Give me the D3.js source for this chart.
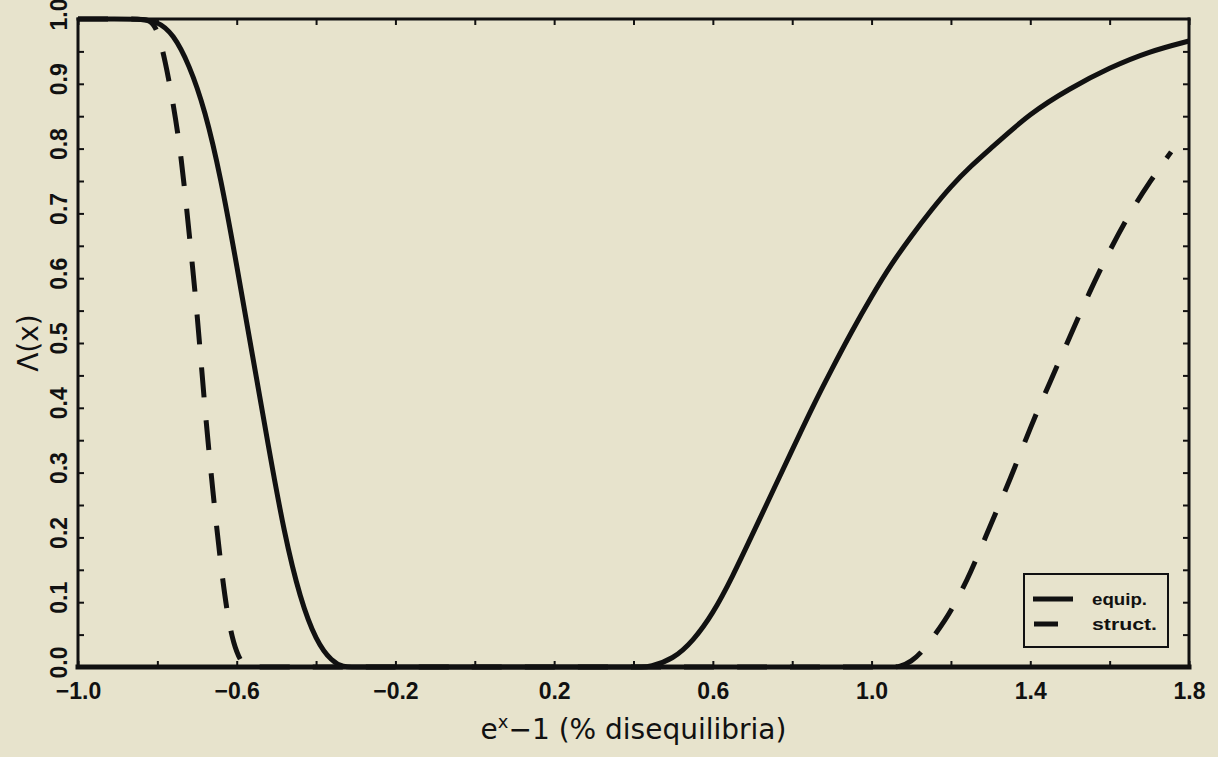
<!DOCTYPE html>
<html><head><meta charset="utf-8">
<script src="https://cdn.jsdelivr.net/npm/d3@7/dist/d3.min.js"></script>
<style>html,body{margin:0;padding:0;background:#e7e3cc;} svg{display:block;}</style>
</head><body><svg id="c" width="1218" height="757"></svg>
<script>
// ---- data ----
const seriesNames = ["equip.", "struct."];
const equipX = [-1.0, -0.90, -0.85, -0.80, -0.76, -0.72, -0.68, -0.64, -0.60, -0.56, -0.52, -0.48, -0.44, -0.40, -0.36, -0.33, -0.31, -0.29,
                0.0, 0.40, 0.42, 0.44, 0.50, 0.55, 0.60, 0.65, 0.70, 0.75, 0.80, 0.85, 0.90, 0.95, 1.00, 1.05, 1.10, 1.15, 1.20, 1.25, 1.30, 1.40, 1.50, 1.60, 1.70, 1.80];
const equipY = [1.0, 1.0, 1.0, 0.997, 0.977, 0.93, 0.86, 0.755, 0.62, 0.48, 0.34, 0.205, 0.105, 0.04, 0.008, 0.0, 0.0, 0.0,
                0.0, 0.0, 0.0, 0.0, 0.012, 0.04, 0.082, 0.14, 0.205, 0.27, 0.335, 0.40, 0.46, 0.518, 0.572, 0.622, 0.665, 0.705, 0.742, 0.773, 0.80, 0.855, 0.893, 0.925, 0.95, 0.966];
const structX = [-1.0, -0.86, -0.82, -0.80, -0.78, -0.76, -0.74, -0.72, -0.70, -0.68, -0.66, -0.64, -0.62, -0.60, -0.58, -0.56, -0.54,
                 0.2, 1.03, 1.05, 1.07, 1.10, 1.13, 1.16, 1.20, 1.25, 1.30, 1.35, 1.40, 1.45, 1.50, 1.55, 1.60, 1.65, 1.70, 1.755];
const structY = [1.0, 1.0, 1.0, 0.985, 0.935, 0.87, 0.79, 0.67, 0.55, 0.395, 0.27, 0.155, 0.065, 0.02, 0.0, 0.0, 0.0,
                 0.0, 0.0, 0.0, 0.0, 0.008, 0.025, 0.05, 0.085, 0.145, 0.22, 0.29, 0.37, 0.44, 0.51, 0.58, 0.643, 0.70, 0.748, 0.795];
const xTickLabels = [-1.0, -0.6, -0.2, 0.2, 0.6, 1.0, 1.4, 1.8];
const xMinorTicks = [-1.0, -0.8, -0.6, -0.4, -0.2, 0.0, 0.2, 0.4, 0.6, 0.8, 1.0, 1.2, 1.4, 1.6, 1.8];
const yTickLabels = [0.0, 0.1, 0.2, 0.3, 0.4, 0.5, 0.6, 0.7, 0.8, 0.9, 1.0];
const yMinorTicks = [0.05, 0.1, 0.15, 0.2, 0.25, 0.3, 0.35, 0.4, 0.45, 0.5, 0.55, 0.6, 0.65, 0.7, 0.75, 0.8, 0.85, 0.9, 0.95];
const xTitle = ["e", "x", "\u22121 (% disequilibria)"];
const yTitle = "\u039B(x)";

// ---- layout ----
const svg = d3.select("#c");
const ink = "#111";
const L = 78, R = 1189, T = 19, B = 667;
const x = d3.scaleLinear().domain([-1.0, 1.8]).range([L, R]);
const y = d3.scaleLinear().domain([0, 1]).range([B, T]);

svg.append("rect").attr("width", 1218).attr("height", 757).attr("fill", "#e7e3cc");

// curves
const line = d3.line().x(d => x(d[0])).y(d => y(d[1])).curve(d3.curveBasis);
const equip = equipX.map((v, i) => [v, equipY[i]]);
const struct = structX.map((v, i) => [v, structY[i]]);
svg.append("path").datum(equip).attr("d", line).attr("fill", "none")
  .attr("stroke", ink).attr("stroke-width", 5);
svg.append("path").datum(struct).attr("d", line).attr("fill", "none")
  .attr("stroke", ink).attr("stroke-width", 5).attr("stroke-dasharray", "30,23");

// frame
const frame = svg.append("g").attr("stroke", ink).attr("stroke-linecap", "square");
frame.append("line").attr("x1", L).attr("x2", R).attr("y1", B).attr("y2", B).attr("stroke-width", 5);
frame.append("line").attr("x1", L).attr("x2", R).attr("y1", T).attr("y2", T).attr("stroke-width", 3);
frame.append("line").attr("x1", L).attr("x2", L).attr("y1", T).attr("y2", B).attr("stroke-width", 3);
frame.append("line").attr("x1", R).attr("x2", R).attr("y1", T).attr("y2", B).attr("stroke-width", 3);

// minor inward ticks via axes
function styleTicks(g) {
  g.select(".domain").remove();
  g.selectAll(".tick line").attr("stroke", ink).attr("stroke-width", 2);
  g.selectAll(".tick text").remove();
}
svg.append("g").attr("transform", `translate(0,${B})`)
  .call(d3.axisBottom(x).tickValues(xMinorTicks).tickSize(-6)).call(styleTicks);
svg.append("g").attr("transform", `translate(0,${T})`)
  .call(d3.axisTop(x).tickValues(xMinorTicks).tickSize(-6)).call(styleTicks);
svg.append("g").attr("transform", `translate(${L},0)`)
  .call(d3.axisLeft(y).tickValues(yMinorTicks).tickSize(-6)).call(styleTicks);
svg.append("g").attr("transform", `translate(${R},0)`)
  .call(d3.axisRight(y).tickValues(yMinorTicks).tickSize(-6)).call(styleTicks);

// x tick labels
const xl = svg.append("g").attr("transform", `translate(0,${B})`)
  .call(d3.axisBottom(x).tickValues(xTickLabels).tickSize(0).tickFormat(d3.format(".1f")));
xl.select(".domain").remove();
xl.selectAll(".tick text").attr("y", 32).attr("dy", 0)
  .attr("fill", ink).style("font-family", "'Liberation Sans', Arial, sans-serif")
  .style("font-weight", "bold").style("font-size", "23px");

// y tick labels (rotated)
const yl = svg.append("g").attr("transform", `translate(${L},0)`)
  .call(d3.axisLeft(y).tickValues(yTickLabels).tickSize(0).tickFormat(d3.format(".1f")));
yl.select(".domain").remove();
yl.selectAll(".tick text")
  .attr("transform", "rotate(-90)").attr("x", 5).attr("y", -11).attr("dy", 0)
  .attr("text-anchor", "middle").attr("fill", ink)
  .style("font-family", "'Liberation Sans', Arial, sans-serif")
  .style("font-weight", "bold").style("font-size", "23px");

// axis titles
const xt = svg.append("text").attr("x", (L + R) / 2).attr("y", 739)
  .attr("text-anchor", "middle").attr("fill", ink)
  .style("font-family", "'DejaVu Sans', sans-serif").style("font-size", "28px");
xt.append("tspan").text(xTitle[0]);
xt.append("tspan").attr("dy", -11).style("font-size", "18px").text(xTitle[1]);
xt.append("tspan").attr("dy", 11).text(xTitle[2]);

svg.append("text").attr("transform", `translate(38,${(T + B) / 2}) rotate(-90)`)
  .attr("text-anchor", "middle").attr("fill", ink)
  .style("font-family", "'DejaVu Sans', sans-serif").style("font-size", "28px")
  .text(yTitle);

// legend
const lg = svg.append("g");
lg.append("rect").attr("x", 1024).attr("y", 574).attr("width", 144).attr("height", 73)
  .attr("fill", "none").attr("stroke", ink).attr("stroke-width", 2);
const legendY = [599, 624];
lg.append("line").attr("x1", 1033).attr("x2", 1073).attr("y1", legendY[0]).attr("y2", legendY[0])
  .attr("stroke", ink).attr("stroke-width", 5);
lg.append("line").attr("x1", 1034).attr("x2", 1058).attr("y1", legendY[1]).attr("y2", legendY[1])
  .attr("stroke", ink).attr("stroke-width", 5);
const legendW = [55, 65];
seriesNames.forEach((n, i) => {
  lg.append("text").attr("x", 1092).attr("y", legendY[i] + 6)
    .attr("textLength", legendW[i]).attr("lengthAdjust", "spacingAndGlyphs")
    .attr("fill", ink).style("font-family", "'Liberation Sans', Arial, sans-serif")
    .style("font-weight", "bold").style("font-size", "17px").text(n);
});
</script></body></html>
